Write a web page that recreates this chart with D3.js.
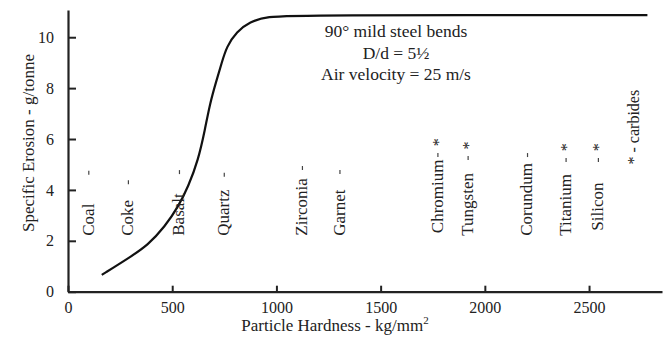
<!DOCTYPE html>
<html><head><meta charset="utf-8">
<script src="https://cdn.jsdelivr.net/npm/d3@7"></script>
<style>body{margin:0;background:#fff}svg{display:block}text{font-family:"Liberation Serif","DejaVu Serif",serif;fill:#222}</style>
</head><body><svg id="c" width="669" height="338"></svg>
<script>
const curveX = [162,289,385,465,529,577,625,657,681,713,737,761,809,873,953,1113,2780];
const curveY = [0.66,1.31,1.84,2.56,3.34,4.13,5.18,6.36,7.4,8.32,8.98,9.63,10.22,10.61,10.81,10.87,10.87];
const materials = ["Coal","Coke","Basalt","Quartz","Zirconia","Garnet","Chromium","Tungsten","Corundum","Titanium","Silicon"];
const hardness = [95,285,530,745,1120,1300,1770,1915,2200,2385,2540];
const dashLevel = [4.67,4.3,4.7,4.6,4.86,4.7,5.37,5.25,5.37,5.18,5.18];
const isCarbide = [false,false,false,false,false,false,true,true,false,true,true];
const labelBase = [2.2,2.2,2.2,2.2,2.2,2.2,2.3,2.2,2.2,2.2,2.4];
const xTicks = [0,500,1000,1500,2000,2500];
const yTicks = [0,2,4,6,8,10];
const noteLines = ["90° mild steel bends","D/d = 5½","Air velocity = 25 m/s"];

const svg = d3.select("#c");
const x = d3.scaleLinear().domain([0,2850]).range([68,662]);
const y = d3.scaleLinear().domain([0,11.07]).range([291.7,10]);

// axes
const xa = svg.append("g").attr("transform","translate(0,"+y(0)+")")
  .call(d3.axisBottom(x).tickValues(xTicks).tickFormat(d3.format("d")).tickSize(-6).tickPadding(10).tickSizeOuter(0));
const ya = svg.append("g").attr("transform","translate("+x(0)+",0)")
  .call(d3.axisLeft(y).tickValues(yTicks).tickFormat(d3.format("d")).tickSize(-8).tickPadding(14).tickSizeOuter(0));
[xa,ya].forEach(g=>{
  g.select(".domain").attr("stroke","#222").attr("stroke-width",2.2);
  g.selectAll(".tick line").attr("stroke","#222").attr("stroke-width",2);
  g.selectAll(".tick text").attr("font-size",16).attr("fill","#222")
   .style("font-family",'"Liberation Serif",serif');
});

// curve
const pts = curveX.map((v,i)=>[v,curveY[i]]);
svg.append("path").datum(pts)
  .attr("d",d3.line().x(d=>x(d[0])).y(d=>y(d[1])).curve(d3.curveBasis))
  .attr("fill","none").attr("stroke","#111").attr("stroke-width",2.2);

// material labels
materials.forEach((m,i)=>{
  const px = x(hardness[i]);
  svg.append("text").attr("transform","translate("+px+","+y(labelBase[i])+") rotate(-90)")
    .attr("dy","0.35em").attr("font-size",17).text(m);
  svg.append("line").attr("x1",px+1).attr("x2",px+1)
    .attr("y1",y(dashLevel[i])-2).attr("y2",y(dashLevel[i])+2)
    .attr("stroke","#444").attr("stroke-width",1.2);
  if(isCarbide[i]){
    svg.append("text").attr("transform","translate("+(px+1)+","+y(dashLevel[i]+0.5)+") rotate(-90)")
      .attr("dy","0.35em").attr("font-size",16).attr("text-anchor","middle").text("*");
  }
});
// carbides key
svg.append("text").attr("transform","translate("+x(2715)+","+y(5.0)+") rotate(-90)")
  .attr("dy","0.35em").attr("font-size",16).text("* - carbides");

// note
noteLines.forEach((t,i)=>{
  svg.append("text").attr("x",396).attr("y",37+i*21.5).attr("text-anchor","middle")
    .attr("font-size",17.5).text(t);
});

// axis titles
svg.append("text").attr("x",335).attr("y",331).attr("text-anchor","middle").attr("font-size",17)
  .html('Particle Hardness - kg/mm<tspan dy="-7" font-size="11">2</tspan>');
svg.append("text").attr("transform","translate(28,143) rotate(-90)").attr("dy","0.35em")
  .attr("text-anchor","middle").attr("font-size",17).text("Specific Erosion - g/tonne");
</script></body></html>
